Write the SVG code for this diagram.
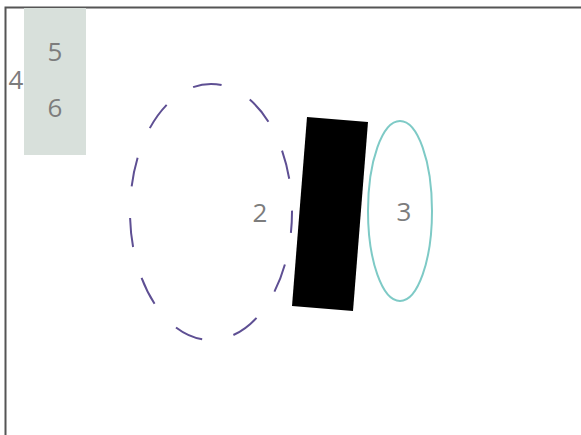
<svg xmlns="http://www.w3.org/2000/svg" width="581" height="435" viewBox="0 0 581 435">
<style>
.lbl{font-family:"Open Sans","Liberation Sans",sans-serif;font-size:26px;fill:#7d7d7d;text-anchor:middle;dominant-baseline:central}
</style>
<rect width="581" height="435" fill="#fff"/>
<path d="M5.5 435 V7.5 H581" fill="none" stroke="#555" stroke-width="2"/>
<g id="n4">
<rect x="24" y="8" width="62" height="147" fill="#d8e0db"/>
<text class="lbl" x="16" y="79">4</text>
</g>
<g id="n5"><text class="lbl" x="55" y="51">5</text></g>
<g id="n6"><text class="lbl" x="55" y="107">6</text></g>
<g id="n2">
<ellipse cx="211" cy="212" rx="81" ry="128" fill="none" stroke="#5e4f93" stroke-width="2" stroke-dasharray="29 32" stroke-dashoffset="8"/>
<text class="lbl" x="260" y="212">2</text>
</g>
<g id="n1"><polygon points="307,117 368,122 353,311 292,306" fill="#000"/></g>
<g id="n3">
<ellipse cx="400" cy="211" rx="32" ry="90" fill="none" stroke="#7ecac6" stroke-width="2"/>
<text class="lbl" x="404" y="211">3</text>
</g>
<g id="connectors"/>
</svg>
